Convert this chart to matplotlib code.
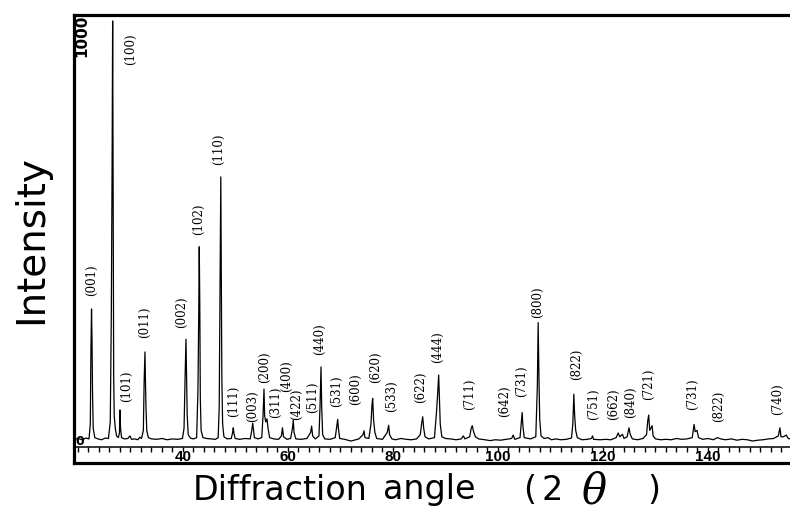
import matplotlib
matplotlib.use("Agg")
import matplotlib.pyplot as plt
from matplotlib.ticker import FixedLocator, MultipleLocator

# XRD profile vertices (2-theta in degrees, counts)
two_theta = [
    19.3, 20.0, 20.8, 21.5, 22.1, 22.35, 22.45, 22.58, 22.68, 22.76, 22.9, 23.2,
    23.8, 24.5, 25.2, 25.8, 26.15, 26.35, 26.5, 26.6, 26.7, 26.8, 26.9, 27.1,
    27.35, 27.7, 27.9, 28.0, 28.1, 28.3, 28.8, 29.5, 29.9, 30.2, 30.8, 31.4,
    31.8, 32.1, 32.45, 32.6, 32.76, 32.85, 32.95, 33.1, 33.4, 34.0, 35.0, 36.0,
    37.0, 38.0, 39.0, 39.9, 40.2, 40.4, 40.57, 40.68, 40.8, 41.0, 41.4, 42.0,
    42.6, 42.85, 43.0, 43.1, 43.2, 43.3, 43.45, 43.8, 44.5, 45.3, 46.2, 46.7,
    46.9, 47.05, 47.2, 47.3, 47.4, 47.55, 47.8, 48.4, 49.2, 49.45, 49.58, 49.7,
    49.95, 50.8, 51.8, 52.8, 53.1, 53.28, 53.4, 53.6, 54.3, 55.0, 55.25, 55.43,
    55.55, 55.75, 56.0, 56.2, 56.5, 57.3, 58.2, 58.75, 58.95, 59.15, 59.8, 60.5,
    60.85, 61.0, 61.15, 61.5, 62.5, 63.6, 64.3, 64.5, 64.7, 65.2, 65.9, 66.1,
    66.29, 66.42, 66.6, 67.0, 68.0, 69.0, 69.3, 69.47, 69.6, 69.85, 70.8, 72.0,
    73.5, 74.3, 74.48, 74.65, 75.4, 75.8, 76.0, 76.13, 76.3, 76.55, 76.9, 78.0,
    78.9, 79.18, 79.35, 79.8, 80.5, 81.5, 82.5, 83.5, 84.5, 85.2, 85.5, 85.66,
    85.85, 86.1, 86.8, 87.9, 88.3, 88.55, 88.7, 88.85, 89.0, 89.3, 90.0, 91.0,
    92.0, 93.0, 93.4, 93.7, 94.6, 94.9, 95.1, 95.35, 95.7, 96.3, 97.5, 98.5,
    99.5, 100.5, 101.5, 102.6, 102.9, 103.2, 104.2, 104.45, 104.6, 104.75, 105.0, 106.2,
    107.2, 107.5, 107.65, 107.8, 107.95, 108.2, 108.8, 109.5, 110.2, 111.0, 112.0, 113.0,
    114.0, 114.25, 114.45, 114.6, 114.8, 115.1, 116.0, 117.0, 117.8, 118.0, 118.2, 119.5,
    120.5, 121.5, 122.5, 122.9, 123.2, 123.7, 124.0, 124.6, 124.95, 125.2, 125.6, 126.6,
    127.6, 128.3, 128.5, 128.7, 128.9, 129.35, 129.55, 130.0, 131.0, 132.0, 133.0, 134.0,
    135.0, 136.0, 137.0, 137.35, 137.55, 137.9, 138.2, 139.0, 140.0, 141.0, 141.8, 142.4,
    143.3, 144.5, 145.5, 146.5, 147.5, 148.5, 149.5, 150.5, 151.5, 152.5, 153.4, 153.7,
    153.9, 154.4, 154.9, 155.3, 155.6,
]
counts = [
    4, 6, 3, 7, 5, 40, 200, 310, 230, 120, 30, 8,
    5, 3, 7, 6, 45, 300, 660, 986, 600, 150, 60, 30,
    12, 8, 20, 73, 30, 8, 5, 6, 12, 4, 5, 3,
    9, 6, 25, 140, 209, 140, 80, 25, 8, 5, 4, 6,
    3, 5, 4, 6, 30, 150, 239, 150, 60, 15, 7, 5,
    8, 120, 300, 456, 320, 100, 25, 8, 6, 5, 4, 8,
    80, 350, 620, 400, 150, 40, 10, 5, 6, 20, 31, 18,
    6, 4, 6, 5, 25, 42, 30, 8, 5, 8, 60, 122,
    60, 45, 52, 30, 8, 5, 4, 12, 31, 10, 4, 6,
    30, 49, 20, 5, 4, 6, 20, 35, 12, 5, 12, 80,
    174, 80, 15, 5, 4, 8, 35, 51, 30, 6, 4, 0,
    5, 15, 24, 8, 6, 40, 85, 100, 50, 20, 6, 4,
    20, 37, 15, 5, 3, 6, 4, 3, 5, 15, 45, 57,
    30, 10, 5, 8, 70, 120, 155, 100, 40, 10, 6, 5,
    3, 5, 12, 5, 10, 30, 36, 22, 10, 5, 3, 1,
    3, 2, 4, 6, 14, 4, 8, 45, 67, 35, 8, 5,
    10, 130, 278, 150, 50, 12, 6, 8, 3, 5, 3, 4,
    7, 40, 110, 60, 25, 8, 3, 4, 6, 12, 4, 3,
    4, 3, 8, 19, 10, 16, 6, 10, 31, 15, 5, 3,
    6, 15, 45, 61, 25, 36, 12, 5, 3, 4, 3, 6,
    4, 5, 8, 39, 22, 25, 8, 4, 6, 3, 8, 5,
    3, 5, 2, 4, 3, 0, 2, 3, 5, 6, 12, 31,
    10, 10, 14, 6, 5,
]

# Miller-index annotations: text, 2-theta of the label, counts at the label's lower end
hkl_labels = ["(001)", "(100)", "(101)", "(011)", "(002)", "(102)", "(110)", "(111)",
              "(003)", "(200)", "(311)", "(400)", "(422)", "(511)", "(440)", "(531)",
              "(600)", "(620)", "(533)", "(622)", "(444)", "(711)", "(642)", "(731)",
              "(800)", "(822)", "(751)", "(662)", "(840)", "(721)", "(731)", "(822)",
              "(740)"]
hkl_x = [22.67, 30.10, 29.33, 32.76, 39.81, 43.05, 46.86, 49.71,
         53.33, 55.62, 57.71, 59.81, 61.71, 64.76, 66.10, 69.33,
         72.95, 76.76, 79.81, 85.33, 88.57, 94.67, 101.33, 104.57,
         107.62, 115.05, 118.29, 122.10, 125.33, 128.76, 137.14, 142.10,
         153.33]
hkl_y = [340, 883, 92, 242, 265, 484, 648, 56,
         45, 136, 54, 115, 49, 66, 202, 80,
         85, 136, 68, 89, 183, 73, 56, 103,
         289, 143, 49, 49, 54, 96, 73, 44,
         61]

x_ticks = [40, 60, 80, 100, 120, 140]

W, H = 790, 529
fig = plt.figure(figsize=(W / 100, H / 100), dpi=100)

# outer frame (thick border around plot and tick band)
frame = fig.add_axes([74 / W, 1 - 463 / H, 1 - 74 / W, (463 - 15) / H])
frame.set_xticks([])
frame.set_yticks([])
for side in ("left", "top", "bottom"):
    frame.spines[side].set_linewidth(2.3)
frame.spines["right"].set_visible(False)
frame.patch.set_alpha(0)

# data axes
ax = fig.add_axes([74 / W, 1 - 447 / H, 1 - 74 / W, (447 - 15) / H])
ax.patch.set_alpha(0)
for side in ("left", "top", "right"):
    ax.spines[side].set_visible(False)
ax.spines["bottom"].set_linewidth(1.1)
ax.set_xlim(19.24, 155.62)
ax.set_ylim(-14, 1000)
ax.plot(two_theta, counts, color="black", linewidth=0.9)

ax.xaxis.set_major_locator(FixedLocator(x_ticks))
ax.xaxis.set_minor_locator(MultipleLocator(2))
ax.tick_params(axis="x", which="both", direction="out", length=3.5, width=1.0,
               pad=-1.5, labelsize=11)
ax.set_yticks([])
for lab in ax.get_xticklabels():
    lab.set_fontweight("bold")
    lab.set_family("Liberation Sans")

for text, x, y in zip(hkl_labels, hkl_x, hkl_y):
    ax.text(x, y, text, rotation=90, ha="center", va="bottom",
            family="DejaVu Serif", fontsize=8.5)

# y-scale end labels
ax.text(19.55, 0, "0", ha="left", va="center", fontsize=9, fontweight="bold")
ax.text(19.3, 1000, "1000", rotation=90, ha="left", va="top",
        fontsize=11, fontweight="bold")

# axis titles
fig.text(31 / W, 1 - 240 / H, "Intensity", rotation=90, ha="center",
         va="center", fontsize=28, family="DejaVu Sans")
xlabel_y = 1 - 490 / H
fig.text(193 / W, xlabel_y, "Diffraction", ha="left", va="center",
         fontsize=24, family="DejaVu Sans")
fig.text(383 / W, xlabel_y, "angle", ha="left", va="center",
         fontsize=24, family="DejaVu Sans")
fig.text(523 / W, xlabel_y, "(", ha="left", va="center",
         fontsize=24, family="DejaVu Sans")
fig.text(542 / W, xlabel_y, "2", ha="left", va="center",
         fontsize=24, family="DejaVu Sans")
fig.text(594 / W, 1 - 492 / H, "θ", ha="center", va="center",
         fontsize=30, family="DejaVu Serif", style="italic")
fig.text(647 / W, xlabel_y, ")", ha="left", va="center",
         fontsize=24, family="DejaVu Sans")

fig.savefig("out.png", dpi=100)
